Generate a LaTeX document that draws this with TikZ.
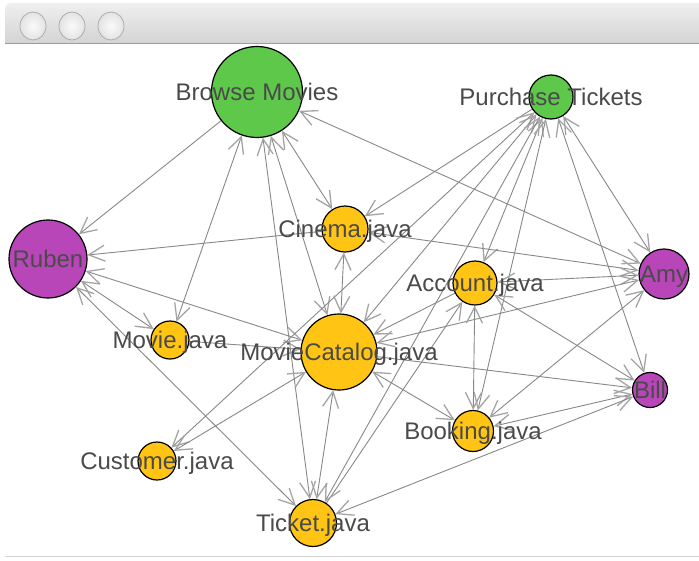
\documentclass[tikz,border=0pt]{standalone}
\usepackage{fontspec}
\setmainfont{Liberation Sans}
\usetikzlibrary{arrows.meta,shapes.geometric}
\pgfdeclarelayer{backdrop}
\pgfdeclarelayer{edges}
\pgfsetlayers{backdrop,edges,main}

\definecolor{usecase}{HTML}{5EC84A}
\definecolor{actor}{HTML}{B846B8}
\definecolor{classfile}{HTML}{FFC414}
\definecolor{linkgray}{HTML}{888888}
\definecolor{tipgray}{HTML}{A4A4A4}
\definecolor{labelgray}{HTML}{4A4A4A}
\definecolor{bartop}{HTML}{EFEFEF}
\definecolor{barbottom}{HTML}{D4D4D4}
\definecolor{barline}{HTML}{9C9C9C}

\tikzset{
  vertex/.style={circle, draw=black, line width=1.2pt, inner sep=0pt},
  ucase/.style={vertex, fill=usecase},
  person/.style={vertex, fill=actor},
  jfile/.style={vertex, fill=classfile},
  vlabel/.style={text=labelgray, font=\fontsize{24}{28}\selectfont,
    anchor=base, yshift=-8.6pt, inner sep=0pt},
  barb/.tip={Straight Barb[length=16pt,width=16pt,line width=1.3pt,color=tipgray]},
  link/.style={draw=linkgray, line width=0.9pt, -barb},
  link2/.style={draw=linkgray, line width=0.9pt, barb-barb},
  winbtn/.style={ellipse, minimum width=26pt, minimum height=28pt,
    draw=gray!65, line width=0.8pt, inner color=gray!4, outer color=gray!22},
}

\begin{document}
\begin{tikzpicture}[x=1pt,y=-1pt]
\useasboundingbox (0,0) rectangle (699,560);
\begin{pgfonlayer}{backdrop}
\fill[white] (0,0) rectangle (699,560);
\end{pgfonlayer}

% window title bar
\shade[top color=bartop, bottom color=barbottom]
  (5,43) [rounded corners=6pt] -- (5,3) [sharp corners] -- (699,3) -- (699,43) -- cycle;
\draw[barline, line width=1.4pt] (5,43.5) -- (699,43.5);
\draw[gray!35, line width=1pt] (5,556) -- (699,556);
\node[winbtn] (close) at (33,26) {};
\node[winbtn] (minimize) at (72,26) {};
\node[winbtn] (zoom) at (111,26) {};

% vertices
\node[ucase, minimum size=91pt] (bm) at (257,92) {};
\node[ucase, minimum size=44pt] (pt) at (551,97) {};
\node[person, minimum size=78pt] (rub) at (48,259) {};
\node[jfile, minimum size=46pt] (cin) at (345,229) {};
\node[person, minimum size=50pt] (amy) at (664,274) {};
\node[jfile, minimum size=44pt] (acc) at (475,283) {};
\node[jfile, minimum size=38pt] (mov) at (170,340) {};
\node[jfile, minimum size=76pt] (mc) at (339,352) {};
\node[person, minimum size=35pt] (bill) at (650,390) {};
\node[jfile, minimum size=41pt] (boo) at (473,431) {};
\node[jfile, minimum size=38pt] (cus) at (157,461) {};
\node[jfile, minimum size=47pt] (tic) at (313,523) {};

% connectors
\begin{pgfonlayer}{edges}
\draw[link] (bm) -- (rub);
\draw[link] (cin) -- (rub);
\draw[link] (mov) -- (mc);
\draw[link] (tic) -- (acc);
\draw[link] (pt) -- (cin);
\draw[link] (mc) -- (bill);
\draw[link] (acc) -- (mc);
\draw[link2] (bm) -- (cin);
\draw[link2] (bm) -- (amy);
\draw[link2] (bm) -- (mov);
\draw[link2] (bm) -- (tic);
\draw[link2] (bm) -- (mc);
\draw[link2] (rub) -- (mc);
\draw[link2] (rub) -- (mov);
\draw[link2] (rub) -- (tic);
\draw[link2] (pt) -- (cus);
\draw[link2] (pt) -- (mc);
\draw[link2] (pt) -- (acc);
\draw[link2] (pt) -- (boo);
\draw[link2] (pt) -- (bill);
\draw[link2] (pt) -- (amy);
\draw[link2] (pt) -- (tic);
\draw[link2] (amy) -- (cin);
\draw[link2] (acc) -- (amy);
\draw[link2] (mc) -- (amy);
\draw[link2] (acc) -- (bill);
\draw[link2] (acc) -- (boo);
\draw[link2] (mc) -- (boo);
\draw[link2] (amy) -- (boo);
\draw[link2] (boo) -- (bill);
\draw[link2] (tic) -- (bill);
\draw[link2] (mc) -- (tic);
\draw[link2] (mc) -- (cin);
\draw[link2] (cus) -- (mc);
\end{pgfonlayer}

% labels
\node[vlabel] (bm-l) at (bm) {Browse Movies};
\node[vlabel] (pt-l) at (pt) {Purchase Tickets};
\node[vlabel] (rub-l) at (rub) {Ruben};
\node[vlabel] (cin-l) at (cin) {Cinema.java};
\node[vlabel] (amy-l) at (amy) {Amy};
\node[vlabel] (acc-l) at (acc) {Account.java};
\node[vlabel] (mov-l) at (mov) {Movie.java};
\node[vlabel] (mc-l) at (mc) {MovieCatalog.java};
\node[vlabel] (bill-l) at (bill) {Bill};
\node[vlabel] (boo-l) at (boo) {Booking.java};
\node[vlabel] (cus-l) at (cus) {Customer.java};
\node[vlabel] (tic-l) at (tic) {Ticket.java};
\end{tikzpicture}
\end{document}
